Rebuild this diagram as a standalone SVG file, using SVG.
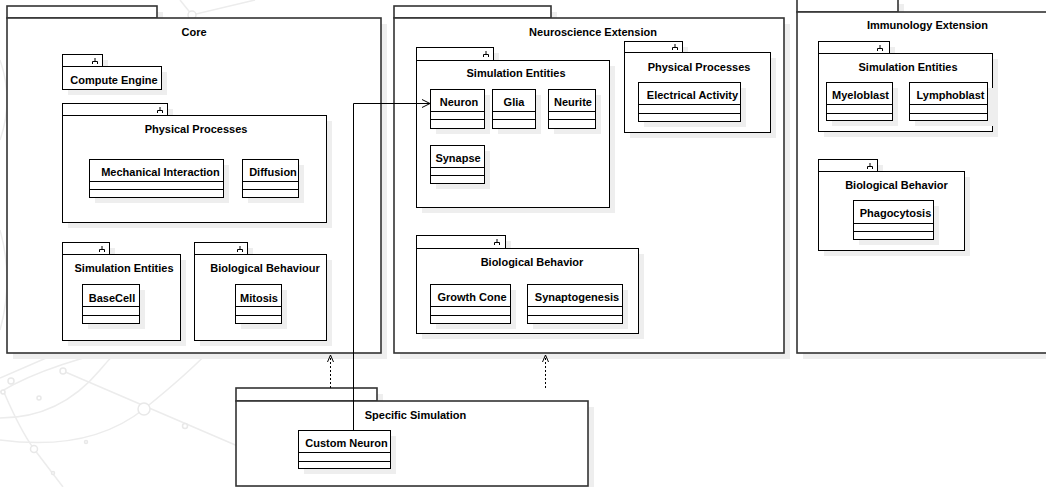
<svg xmlns="http://www.w3.org/2000/svg" width="1046" height="487" viewBox="0 0 1046 487">
<defs>
<style>
.bg{fill:none;stroke:#ececec;stroke-width:1.5}
.bgc{fill:#fff;stroke:#e8e8e8;stroke-width:1.5}
.sh{fill:#eeeeee}
.pk{fill:#fff;stroke:#000;stroke-width:1}
.op{fill:#fff;stroke:#333;stroke-width:1.6}
.dv{stroke:#000;stroke-width:1}
.ic{fill:none;stroke:#000;stroke-width:1}
.t{font-family:"Liberation Sans",Arial,Helvetica,sans-serif;font-size:11px;font-weight:bold;text-anchor:middle;fill:#000}
.cn{fill:none;stroke:#000;stroke-width:1}
.dp{fill:none;stroke:#000;stroke-width:1;stroke-dasharray:2,2}
</style>
</defs>
<rect width="1046" height="487" fill="#fff"/>
<g id="background">
<path class="bg" d="M180,0 L192,15 L255,0"/>
<path class="bg" d="M0,392 Q50,362 150,342"/>
<path class="bg" d="M63,371 L240,447"/>
<path class="bg" d="M0,440 Q90,452 144,409 Q190,372 215,345"/>
<path class="bg" d="M3,390 Q20,430 34,449 Q50,470 63,487"/>
<path class="bg" d="M0,418 Q60,418 100,370 Q115,352 125,345"/>
<path class="bg" d="M0,378 Q30,365 60,352"/>
<path class="bg" d="M0,230 Q14,280 0,330"/>
<path class="bg" d="M0,60 Q14,100 0,140"/>
<circle class="bgc" cx="192" cy="15" r="4"/>
<circle class="bgc" cx="11" cy="381" r="3"/>
<circle class="bgc" cx="63" cy="371" r="3"/>
<circle class="bgc" cx="144" cy="409" r="6"/>
<circle class="bgc" cx="185" cy="426" r="2.5"/>
<circle class="bgc" cx="34" cy="449" r="3.5"/>
<circle class="bgc" cx="39" cy="398" r="2"/>
<circle class="bgc" cx="3" cy="392" r="2"/>
<circle class="bgc" cx="86" cy="442" r="1.5"/>
<circle class="bgc" cx="53" cy="473" r="1.5"/>
</g>

<g id="core">
<rect class="sh" x="13" y="12" width="150" height="12"/><rect class="sh" x="13" y="24" width="374" height="335"/>
<rect class="op" x="7" y="6" width="150" height="12"/><rect class="op" x="7" y="18" width="374" height="335"/>
<text class="t" x="194" y="36">Core</text>
</g>
<g id="core-compute-engine">
<rect class="sh" x="68" y="60" width="40" height="12"/><rect class="sh" x="68" y="72" width="99" height="23"/>
<rect class="pk" x="62.5" y="54.5" width="40" height="12"/><rect class="pk" x="62.5" y="66.5" width="99" height="23"/>
<path class="ic" d="M92.5,64 V61.5 H97.5 V64 M95,61.5 V58"/>
<text class="t" x="114" y="84">Compute Engine</text>
</g>
<g id="core-physical-processes">
<rect class="sh" x="68" y="109" width="105" height="12"/><rect class="sh" x="68" y="121" width="264" height="107"/>
<rect class="pk" x="62.5" y="103.5" width="105" height="12"/><rect class="pk" x="62.5" y="115.5" width="264" height="107"/>
<path class="ic" d="M157.5,113 V110.5 H162.5 V113 M160,110.5 V107"/>
<text class="t" x="196" y="133">Physical Processes</text>
</g>
<g id="mechanical-interaction">
<rect class="sh" x="95" y="165" width="134" height="38"/>
<rect class="pk" x="89.5" y="159.5" width="134" height="38"/>
<path class="dv" d="M89.5,181.5 H223.5 M89.5,189.5 H223.5"/>
<text class="t" x="160.5" y="176">Mechanical Interaction</text>
</g>
<g id="diffusion">
<rect class="sh" x="248" y="165" width="56" height="38"/>
<rect class="pk" x="242.5" y="159.5" width="56" height="38"/>
<path class="dv" d="M242.5,181.5 H298.5 M242.5,189.5 H298.5"/>
<text class="t" x="273" y="176">Diffusion</text>
</g>
<g id="core-simulation-entities">
<rect class="sh" x="68" y="248" width="47" height="12"/><rect class="sh" x="68" y="260" width="118" height="86"/>
<rect class="pk" x="62.5" y="242.5" width="47" height="12"/><rect class="pk" x="62.5" y="254.5" width="118" height="86"/>
<path class="ic" d="M99.5,252 V249.5 H104.5 V252 M102,249.5 V246"/>
<text class="t" x="124" y="272">Simulation Entities</text>
</g>
<g id="basecell">
<rect class="sh" x="88" y="290" width="57" height="39"/>
<rect class="pk" x="82.5" y="284.5" width="57" height="39"/>
<path class="dv" d="M82.5,306.5 H139.5 M82.5,315.5 H139.5"/>
<text class="t" x="112" y="302">BaseCell</text>
</g>
<g id="core-biological-behaviour">
<rect class="sh" x="200" y="248" width="53" height="12"/><rect class="sh" x="200" y="260" width="132" height="86"/>
<rect class="pk" x="194.5" y="242.5" width="53" height="12"/><rect class="pk" x="194.5" y="254.5" width="132" height="86"/>
<path class="ic" d="M237.5,252 V249.5 H242.5 V252 M240,249.5 V246"/>
<text class="t" x="265" y="272">Biological Behaviour</text>
</g>
<g id="mitosis">
<rect class="sh" x="241" y="290" width="46" height="39"/>
<rect class="pk" x="235.5" y="284.5" width="46" height="39"/>
<path class="dv" d="M235.5,306.5 H281.5 M235.5,315.5 H281.5"/>
<text class="t" x="259" y="302">Mitosis</text>
</g>

<g id="neuroscience-extension">
<rect class="sh" x="400" y="12" width="157" height="12"/><rect class="sh" x="400" y="24" width="390" height="335"/>
<rect class="op" x="394" y="6" width="157" height="12"/><rect class="op" x="394" y="18" width="390" height="335"/>
<text class="t" x="593" y="36">Neuroscience Extension</text>
</g>
<g id="neuro-simulation-entities">
<rect class="sh" x="422" y="53" width="77" height="13"/><rect class="sh" x="422" y="66" width="193" height="147"/>
<rect class="pk" x="416.5" y="47.5" width="77" height="13"/><rect class="pk" x="416.5" y="60.5" width="193" height="147"/>
<path class="ic" d="M483.5,57 V54.5 H488.5 V57 M486,54.5 V51"/>
<text class="t" x="516" y="77">Simulation Entities</text>
</g>
<g id="neuron">
<rect class="sh" x="436" y="95" width="54" height="39"/>
<rect class="pk" x="430.5" y="89.5" width="54" height="39"/>
<path class="dv" d="M430.5,111.5 H484.5 M430.5,119.5 H484.5"/>
<text class="t" x="459" y="106">Neuron</text>
</g>
<g id="glia">
<rect class="sh" x="498" y="95" width="43" height="39"/>
<rect class="pk" x="492.5" y="89.5" width="43" height="39"/>
<path class="dv" d="M492.5,111.5 H535.5 M492.5,119.5 H535.5"/>
<text class="t" x="514" y="106">Glia</text>
</g>
<g id="neurite">
<rect class="sh" x="554" y="95" width="47" height="39"/>
<rect class="pk" x="548.5" y="89.5" width="47" height="39"/>
<path class="dv" d="M548.5,111.5 H595.5 M548.5,119.5 H595.5"/>
<text class="t" x="573" y="106">Neurite</text>
</g>
<g id="synapse">
<rect class="sh" x="436" y="151" width="54" height="38"/>
<rect class="pk" x="430.5" y="145.5" width="54" height="38"/>
<path class="dv" d="M430.5,167.5 H484.5 M430.5,175.5 H484.5"/>
<text class="t" x="458" y="162">Synapse</text>
</g>
<g id="neuro-physical-processes">
<rect class="sh" x="630" y="47" width="58" height="11"/><rect class="sh" x="630" y="58" width="146" height="80"/>
<rect class="pk" x="624.5" y="41.5" width="58" height="11"/><rect class="pk" x="624.5" y="52.5" width="146" height="80"/>
<path class="ic" d="M672.5,50 V47.5 H677.5 V50 M675,47.5 V44"/>
<text class="t" x="699" y="71">Physical Processes</text>
</g>
<g id="electrical-activity">
<rect class="sh" x="644" y="88" width="102" height="39"/>
<rect class="pk" x="638.5" y="82.5" width="102" height="39"/>
<path class="dv" d="M638.5,104.5 H740.5 M638.5,113.5 H740.5"/>
<text class="t" x="692.5" y="99">Electrical Activity</text>
</g>
<g id="neuro-biological-behavior">
<rect class="sh" x="422" y="241" width="89" height="13"/><rect class="sh" x="422" y="254" width="222" height="85"/>
<rect class="pk" x="416.5" y="235.5" width="89" height="13"/><rect class="pk" x="416.5" y="248.5" width="222" height="85"/>
<path class="ic" d="M494.5,245 V242.5 H499.5 V245 M497,242.5 V239"/>
<text class="t" x="532" y="266">Biological Behavior</text>
</g>
<g id="growth-cone">
<rect class="sh" x="436" y="290" width="80" height="39"/>
<rect class="pk" x="430.5" y="284.5" width="80" height="39"/>
<path class="dv" d="M430.5,306.5 H510.5 M430.5,315.5 H510.5"/>
<text class="t" x="472" y="301">Growth Cone</text>
</g>
<g id="synaptogenesis">
<rect class="sh" x="533" y="290" width="95" height="39"/>
<rect class="pk" x="527.5" y="284.5" width="95" height="39"/>
<path class="dv" d="M527.5,306.5 H622.5 M527.5,315.5 H622.5"/>
<text class="t" x="577" y="301">Synaptogenesis</text>
</g>

<g id="immunology-extension">
<rect class="sh" x="803" y="4" width="101" height="14"/><rect class="sh" x="803" y="18" width="270" height="341"/>
<rect class="op" x="797" y="-2" width="101" height="14"/><rect class="op" x="797" y="12" width="270" height="341"/>
<text class="t" x="927.5" y="29">Immunology Extension</text>
</g>
<g id="immuno-simulation-entities">
<rect class="sh" x="824" y="47" width="71" height="12"/><rect class="sh" x="824" y="59" width="174" height="78"/>
<rect class="pk" x="818.5" y="41.5" width="71" height="12"/><rect class="pk" x="818.5" y="53.5" width="174" height="78"/>
<path class="ic" d="M877.5,51 V48.5 H882.5 V51 M880,48.5 V45"/>
<text class="t" x="908" y="71">Simulation Entities</text>
</g>
<g id="myeloblast">
<rect class="sh" x="832" y="88" width="66" height="38"/>
<rect class="pk" x="826.5" y="82.5" width="66" height="38"/>
<path class="dv" d="M826.5,104.5 H892.5 M826.5,113.5 H892.5"/>
<text class="t" x="860.5" y="99">Myeloblast</text>
</g>
<g id="lymphoblast">
<rect class="sh" x="915" y="88" width="78" height="38"/>
<rect class="pk" x="909.5" y="82.5" width="78" height="38"/>
<path class="dv" d="M909.5,104.5 H987.5 M909.5,113.5 H987.5"/>
<text class="t" x="950.5" y="99">Lymphoblast</text>
</g>
<g id="immuno-biological-behavior">
<rect class="sh" x="824" y="165" width="59" height="12"/><rect class="sh" x="824" y="177" width="146" height="79"/>
<rect class="pk" x="818.5" y="159.5" width="59" height="12"/><rect class="pk" x="818.5" y="171.5" width="146" height="79"/>
<path class="ic" d="M867.5,169 V166.5 H872.5 V169 M870,166.5 V163"/>
<text class="t" x="896.5" y="189">Biological Behavior</text>
</g>
<g id="phagocytosis">
<rect class="sh" x="859" y="206" width="80" height="39"/>
<rect class="pk" x="853.5" y="200.5" width="80" height="39"/>
<path class="dv" d="M853.5,223.5 H933.5 M853.5,231.5 H933.5"/>
<text class="t" x="895.5" y="217">Phagocytosis</text>
</g>

<g id="specific-simulation">
<rect class="sh" x="242" y="394" width="141" height="13"/><rect class="sh" x="242" y="407" width="352" height="85"/>
<rect class="op" x="236" y="388" width="141" height="13"/><rect class="op" x="236" y="401" width="352" height="85"/>
<text class="t" x="415.5" y="419">Specific Simulation</text>
</g>
<g id="custom-neuron">
<rect class="sh" x="304" y="436" width="92" height="38"/>
<rect class="pk" x="298.5" y="430.5" width="92" height="38"/>
<path class="dv" d="M298.5,452.5 H390.5 M298.5,461.5 H390.5"/>
<text class="t" x="346.5" y="447">Custom Neuron</text>
</g>

<g id="connectors">
<path class="cn" d="M353.5,430 V103.5 H430"/>
<path class="cn" d="M422,99.5 L430,103.5 L422,107.5"/>
<path class="dp" d="M330.5,388 V357"/>
<path class="cn" d="M327.5,362 L330.5,355 L333.5,362"/>
<path class="dp" d="M545.5,388 V357"/>
<path class="cn" d="M542.5,362 L545.5,355 L548.5,362"/>
</g>
</svg>
